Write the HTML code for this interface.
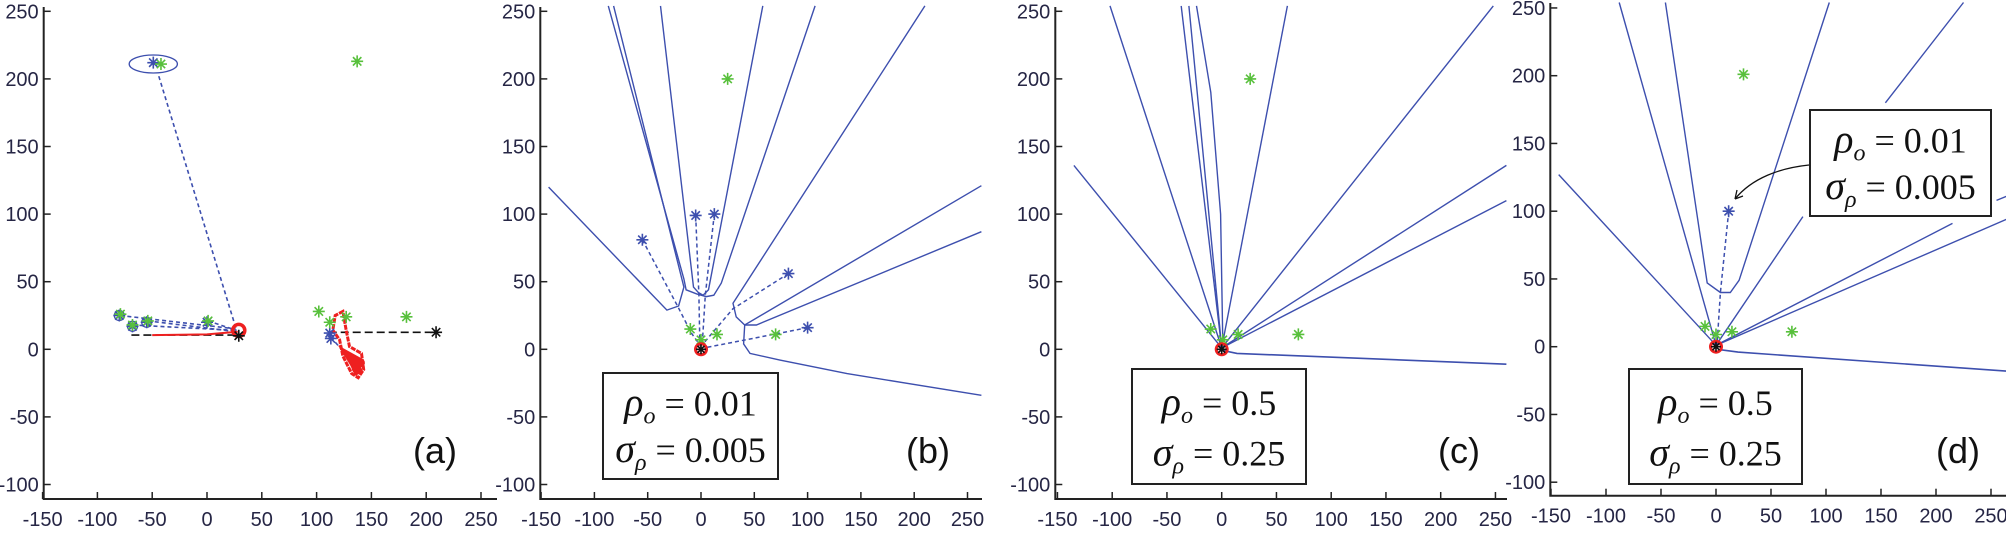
<!DOCTYPE html>
<html><head><meta charset="utf-8">
<style>
html,body{margin:0;padding:0;background:#fff;}
svg{display:block;}
text{font-family:"Liberation Sans",sans-serif;}
.tick{font-size:20px;fill:#262645;}
.box{font-family:"Liberation Serif",serif;font-size:36px;fill:#111;}
.plab{font-size:36px;fill:#111;}
</style></head>
<body>
<svg id="fig" width="2006" height="537" viewBox="0 0 2006 537" xmlns="http://www.w3.org/2000/svg"></svg>
<script>
// ---------- data (data coordinates) ----------
const xTicks = [-150,-100,-50,0,50,100,150,200,250];
const yTicks = [250,200,150,100,50,0,-50,-100];

// panel (a)
const aGreen = [[-42,211],[-79,26],[-68,18],[-54,21],[1,21],[137,213],[102,28],[112,20],[127,24],[182,24]];
const aBlue = [[-49,212],[-80,25],[-68,17],[-55,20],[0,20],[112,12],[113,8]];
const aBlueDash = [[[-44,202],[27,14]],[[-79,25],[27,15]],[[-68,18],[27,14]],[[-54,21],[27,13]],[[1,21],[27,14]],[[113,9],[128,-5]]];
const aBlackDash = [[[-69,10.5],[30,10.5]],[[111,12.6],[209,12.6]]];
const aBlackStars = [[29,10],[209,12.6]];
const aRedLine = [[-50,10.5],[0,11],[28,13]];
const aRedLoop = [[115,15],[117,25],[124,28],[127,14],[130,2],[141,-3],[143,-15],[138,-21],[132,-18],[124,-5],[121,7],[115,14]];
const aRedBlob = [[136,-14],[139,-18],[134,-10],[131,-6],[140,-10]];

// panel (b)
const bLines = [
 [[-143,120],[-32,29],[-21,32],[-16,46],[-82,254]],
 [[-87,254],[-16,52],[-14,44],[-4,41],[5,39],[12,40],[19,49],[107,254]],
 [[-38,254],[-7,46],[-2.5,42],[2,40],[7,44],[58,254]],
 [[210,254],[30,34],[33,24],[41,18],[263,121]],
 [[41,18],[52,18],[263,87]],
 [[41,18],[40,4],[46,-3],[74,-8],[137,-18],[263,-34]]
];
const bBlue = [[-55,81],[-5,99],[12.5,100],[82,56],[100,16]];
const bGreen = [[25,200],[-10,15],[0,7],[15,11],[70,11]];
const bDash = [[[-55,81],[-22,32],[-9,12],[0,2]],[[-5,99],[-2,40],[-1,2]],[[12.5,100],[4,40],[1,2]],[[82,56],[30,30],[3,5]],[[100,16],[42,7],[3,1]]];

// panel (c)
const cRays = [[-135,136],[-102,254],[-37,254],[-30,254],[60,254],[248,254],[260,136],[260,110]];
const cCurve = [[-23,254],[-10,190],[-1,100],[1,5]];
const cBottom = [[2,-1],[14,-3],[260,-11]];
const cGreen = [[26,200],[-10,15],[1,7],[15,11],[70,11]];

// panel (d)
const dRays = [[-143,127],[-88,254],[79,96],[215,91],[264,94]];
const dSegs = [[[154,180],[225,254]],[[255,108],[264,111]]];
const dU = [[-46,254],[-8,47],[4,40],[13,40],[21,49],[103,254]];
const dBottom = [[2,-2],[20,-4],[264,-18]];
const dBlue = [[11.5,100]];
const dGreen = [[25,201],[-10,15],[0,9],[14.5,11],[69,11]];

// ---------- panel geometry ----------
const panels = [
 {id:'a', x0:207, sx:1.096, y0:349.3, sy:1.352, left:43.7, right:497, bottom:499, top:7},
 {id:'b', x0:701, sx:1.066, y0:349.3, sy:1.352, left:540.3, right:982, bottom:499, top:7},
 {id:'c', x0:1221.7, sx:1.095, y0:349.3, sy:1.352, left:1055.3, right:1507, bottom:499, top:7},
 {id:'d', x0:1716, sx:1.1, y0:346.7, sy:1.355, left:1550.3, right:2006, bottom:495.7, top:3}
];
const NS='http://www.w3.org/2000/svg';
const svg=document.getElementById('fig');
function mk(tag,attrs,parent){const e=document.createElementNS(NS,tag);for(const k in attrs)e.setAttribute(k,attrs[k]);(parent||svg).appendChild(e);return e;}
const BLUE='#3d4fae', GREEN='#58c03c', RED='#ee2020';

function build(p){
  const X=v=>p.x0+v*p.sx, Y=v=>p.y0-v*p.sy;
  const g=mk('g',{});
  
  
  const cp=mk('clipPath',{id:'clip'+p.id},g);
  mk('rect',{x:p.left,y:0,width:p.right-p.left,height:p.bottom},cp);
  const plot=mk('g',{'clip-path':'url(#clip'+p.id+')'},g);
  
  
  const ax=mk('path',{d:`M${p.left},${p.top} V${p.bottom} H${p.right}`,stroke:'#222',fill:'none','stroke-width':2},g);
  
  
  xTicks.forEach(t=>{
    const x=X(t); if(x<p.left-4||x>p.right+4) return;
    mk('line',{x1:x,x2:x,y1:p.bottom,y2:p.bottom-7,stroke:'#222','stroke-width':1.5},g);
    const tx=mk('text',{x:x,y:p.bottom+27,'text-anchor':'middle',class:'tick'},g);
    tx.textContent=t;
    
    
  });
  yTicks.forEach(t=>{
    const y=Y(t);
    mk('line',{x1:p.left,x2:p.left+7,y1:y,y2:y,stroke:'#222','stroke-width':1.5},g);
    const ty=mk('text',{x:p.left-5,y:y+7,'text-anchor':'end',class:'tick'},g);
    ty.textContent=t;
    
    
  });
  return {g,plot,X,Y};
}
function poly(ctx,pts,attrs,name){
  const d=pts.map((q,i)=>(i?'L':'M')+ctx.X(q[0]).toFixed(1)+','+ctx.Y(q[1]).toFixed(1)).join(' ');
  const e=mk('path',Object.assign({d:d,fill:'none'},attrs),ctx.plot);
  
  
  return e;
}
function star(ctx,q,col,name,r){
  r=r||6;const x=ctx.X(q[0]),y=ctx.Y(q[1]),k=r*0.7;
  const e=mk('path',{d:`M${x-r},${y}H${x+r}M${x},${y-r}V${y+r}M${x-k},${y-k}L${x+k},${y+k}M${x-k},${y+k}L${x+k},${y-k}`,stroke:col,'stroke-width':1.6,fill:'none'},ctx.plot);
  
  
}
function origin(ctx){
  const c=mk('circle',{cx:ctx.X(0),cy:ctx.Y(0),r:5.5,fill:'none',stroke:RED,'stroke-width':3},ctx.plot);
  
  
  star(ctx,[0,0],'#111','origin-star',5);
}
function box(x,y,w,h,l1,l2,name){
  const g=mk('g',{});
  
  
  mk('rect',{x:x,y:y,width:w,height:h,fill:'#fff',stroke:'#222','stroke-width':2},g);
  const t1=mk('text',{x:x+w/2,y:y+h*0.4,'text-anchor':'middle',class:'box'},g);
  t1.innerHTML='<tspan font-style="italic" font-size="40">ρ</tspan><tspan font-style="italic" font-size="24" dy="8">o</tspan><tspan dy="-8"> = '+l1+'</tspan>';
  const t2=mk('text',{x:x+w/2,y:y+h*0.84,'text-anchor':'middle',class:'box'},g);
  t2.innerHTML='<tspan font-style="italic" font-size="40">σ</tspan><tspan font-style="italic" font-size="24" dy="8">ρ</tspan><tspan dy="-8"> = '+l2+'</tspan>';
}
function plab(x,y,s){
  const t=mk('text',{x:x,y:y,class:'plab'});t.textContent=s;
  
  
}

// ---- (a)
let A=build(panels[0]);
const ell=mk('ellipse',{cx:A.X(-49),cy:A.Y(211),rx:22*A.X(1)-22*A.X(0),ry:9,fill:'none',stroke:BLUE,'stroke-width':1.3},A.plot);


aBlueDash.forEach(s=>poly(A,s,{stroke:BLUE,'stroke-width':1.6,'stroke-dasharray':'4 3'},'blue-dashed-link'));
aBlackDash.forEach(s=>poly(A,s,{stroke:'#111','stroke-width':1.6,'stroke-dasharray':'8 4'},'black-dashed-path'));
poly(A,aRedLine,{stroke:RED,'stroke-width':2},'red-track');
poly(A,aRedLoop,{stroke:RED,'stroke-width':3,'stroke-dasharray':'5 1'},'red-loop');
poly(A,aRedBlob,{stroke:RED,'stroke-width':9,'stroke-linecap':'round'},'red-blob');
const rc=mk('circle',{cx:A.X(29),cy:A.Y(14),r:6,fill:'none',stroke:RED,'stroke-width':3.5},A.plot);


aBlue.forEach(q=>star(A,q,BLUE,'blue-star'));
[[-80,25],[-68,17],[-55,20]].forEach(q=>{const c=mk('circle',{cx:A.X(q[0]),cy:A.Y(q[1]),r:5,fill:'none',stroke:BLUE,'stroke-width':1.3},A.plot);});
aGreen.forEach(q=>star(A,q,GREEN,'green-star'));
aBlackStars.forEach(q=>star(A,q,'#111','black-star'));
plab(413,463,'(a)');

// ---- (b)
let B=build(panels[1]);
bLines.forEach(l=>poly(B,l,{stroke:BLUE,'stroke-width':1.4},'boundary-line'));
bDash.forEach(l=>poly(B,l,{stroke:BLUE,'stroke-width':1.5,'stroke-dasharray':'4 3'},'blue-dashed-link'));
bBlue.forEach(q=>star(B,q,BLUE,'blue-star'));
bGreen.forEach(q=>star(B,q,GREEN,'green-star'));
origin(B);
box(603,373,175,106,'0.01','0.005','param-box-b');
plab(906,463,'(b)');

// ---- (c)
let C=build(panels[2]);
cRays.forEach(q=>poly(C,[[0,1],q],{stroke:BLUE,'stroke-width':1.4},'boundary-ray'));
poly(C,cCurve,{stroke:BLUE,'stroke-width':1.4},'boundary-curve');
poly(C,cBottom,{stroke:BLUE,'stroke-width':1.6},'boundary-bottom');
cGreen.forEach(q=>star(C,q,GREEN,'green-star'));
origin(C);
box(1132,369,174,115,'0.5','0.25','param-box-c');
plab(1438,463,'(c)');

// ---- (d)
let D=build(panels[3]);
dRays.forEach(q=>poly(D,[[0,1],q],{stroke:BLUE,'stroke-width':1.4},'boundary-ray'));
dSegs.forEach(s=>poly(D,s,{stroke:BLUE,'stroke-width':1.4},'boundary-segment'));
poly(D,dU,{stroke:BLUE,'stroke-width':1.4},'boundary-curve');
poly(D,dBottom,{stroke:BLUE,'stroke-width':1.6},'boundary-bottom');
dBlue.forEach(q=>{poly(D,[q,[4,40],[1,2]],{stroke:BLUE,'stroke-width':1.5,'stroke-dasharray':'4 3'},'blue-dashed-link');star(D,q,BLUE,'blue-star');});
dGreen.forEach(q=>star(D,q,GREEN,'green-star'));
origin(D);
box(1810,110,181,106,'0.01','0.005','param-box-d-top');
box(1629,369,173,115,'0.5','0.25','param-box-d');
const arr=mk('path',{d:'M1809,165 C1780,168 1752,178 1735,199 M1735,199 l2,-9 M1735,199 l8,-3',stroke:'#111','stroke-width':1.3,fill:'none'});


plab(1936,463,'(d)');
</script>
</body></html>
